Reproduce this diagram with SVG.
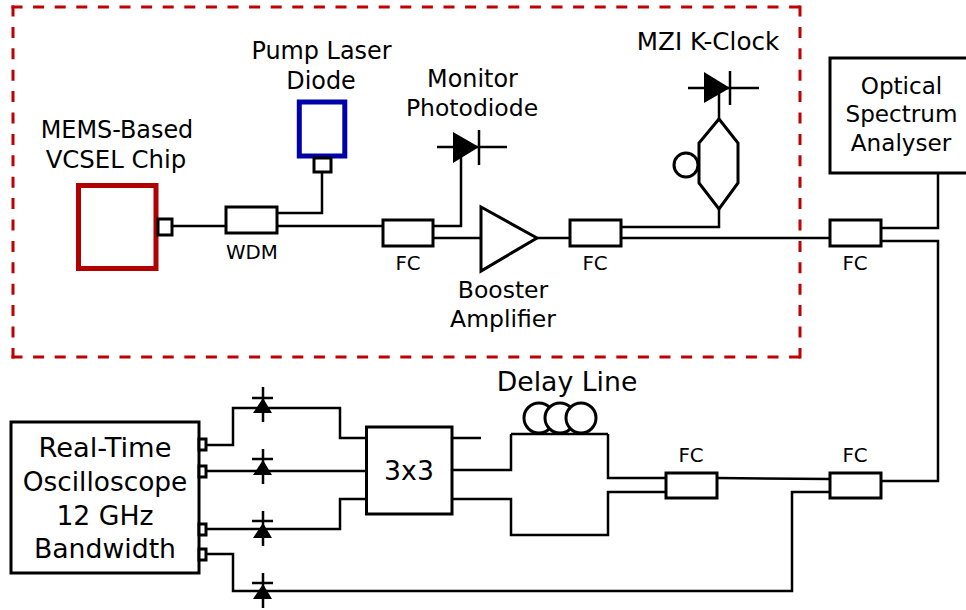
<svg xmlns="http://www.w3.org/2000/svg" width="966" height="610" viewBox="0 0 966 610">
<style>
.b{fill:#fff;stroke:#000;stroke-width:3}
.l{fill:none;stroke:#000;stroke-width:2.5}
.d{fill:#000;stroke:none}
.r{fill:none;stroke:#bf0000;stroke-width:3}
.h{stroke-dasharray:11 10.6}
.v{stroke-dasharray:11 10.4}
text{font-family:"DejaVu Sans",sans-serif;fill:#000;text-anchor:middle}
.t{font-size:23.900px}
.o{font-size:23.100px}
.a{font-size:23.500px}
.s{font-size:19.800px}
.m{font-size:26.700px}
</style>
<rect width="966" height="610" fill="#fff"/>
<g id="boundary"><path class="r h" d="M11.500 7H801.500M11.500 357H801.500"/><path class="r v" d="M13 5.500V358.500M800 5.500V358.500"/></g>
<g id="connectors">
<path class="l" d="M173 226H226M277 226H383M277 213H322V172M433 226H461V147M433 238H481M537 238H570M621 227H719V209M621 238H830M719 119V88M881 228H938V173M881 241H938V481H881"/>
<path class="l" d="M207 445H233V408H340V438H366M207 471H366M207 529H340V499H366M207 554H233V591H792V492H830M452 438H481M452 470H511V434M452 499H511V535H608V492H666M608 434V478H666M511 434H608M717 478L830 479"/>
</g>
<g id="vcsel"><rect x="78.500" y="185.500" width="77.500" height="83" fill="#fff" stroke="#b00000" stroke-width="5"/><rect class="b" x="158" y="219" width="14" height="16"/><text class="t" x="117" y="137.500">MEMS-Based</text><text class="t" x="116" y="167.500" style="font-size:24.400px">VCSEL Chip</text></g>
<g id="pump"><rect x="299.300" y="102" width="45.500" height="54" fill="#fff" stroke="#0000aa" stroke-width="5"/><rect class="b" x="314" y="158" width="17" height="14"/><text class="t" x="321.500" y="58.500">Pump Laser</text><text class="t" x="321" y="88.500">Diode</text></g>
<g id="wdm"><rect class="b" x="226" y="207" width="51" height="26"/><text class="s" x="252" y="259">WDM</text></g>
<g id="fc1"><rect class="b" x="383" y="220" width="50" height="26"/><text class="s" x="408" y="270">FC</text></g>
<g id="monitor"><path class="l" d="M437 147H507M479 130V165"/><path class="d" d="M453 132L479 147L453 163Z"/><text class="t" x="472.500" y="86.500">Monitor</text><text class="a" x="472" y="115.500">Photodiode</text></g>
<g id="booster"><path class="b" d="M481 207V271L537 238Z"/><text class="a" x="503" y="297.500">Booster</text><text class="a" x="503" y="326.500">Amplifier</text></g>
<g id="fc2"><rect class="b" x="570" y="220" width="51" height="26"/><text class="s" x="595" y="270">FC</text></g>
<g id="mzi"><path class="b" d="M719 119L738 143V183L719 209L699 183V143Z"/><circle class="b" cx="686" cy="165" r="12"/><path class="l" d="M688 88H759M730 71V105"/><path class="d" d="M704 72L730 88L704 103Z"/><text class="t" x="708" y="49.500" style="font-size:24.600px">MZI K-Clock</text></g>
<g id="osa"><rect class="b" x="830" y="58" width="140" height="115"/><text class="o" x="901.500" y="93.500">Optical</text><text class="o" x="901.500" y="121.500">Spectrum</text><text class="o" x="901" y="150.500">Analyser</text></g>
<g id="fc3"><rect class="b" x="830" y="220" width="51" height="26"/><text class="s" x="855" y="270">FC</text></g>
<g id="scope"><rect class="b" x="11" y="422" width="188" height="151"/><rect class="b" x="199" y="439" width="7" height="11"/><rect class="b" x="199" y="466" width="7" height="11"/><rect class="b" x="199" y="524" width="7" height="11"/><rect class="b" x="199" y="549" width="7" height="11"/><text class="m" x="105" y="457" style="font-size:27.300px">Real-Time</text><text class="m" x="105" y="491" style="font-size:26.400px">Oscilloscope</text><text class="m" x="105" y="525">12 GHz</text><text class="m" x="105" y="558">Bandwidth</text></g>
<g id="pd1"><path class="l" d="M263 387V422M252 398H273"/><path class="d" d="M263 398L272 413H253Z"/></g>
<g id="pd2"><path class="l" d="M263 449V484M252 459H273"/><path class="d" d="M263 460L272 475H253Z"/></g>
<g id="pd3"><path class="l" d="M263 511V546M252 521H273"/><path class="d" d="M263 523L272 538H253Z"/></g>
<g id="pd4"><path class="l" d="M263 573V608M252 583H273"/><path class="d" d="M263 584L272 599H253Z"/></g>
<g id="coupler"><rect class="b" x="366.500" y="427" width="85.500" height="87"/><text class="m" x="409" y="480">3x3</text></g>
<g id="delay"><circle class="b" cx="539" cy="418" r="15"/><circle class="b" cx="560" cy="418" r="15"/><circle class="b" cx="581" cy="418" r="15"/><text class="m" x="567" y="391">Delay Line</text></g>
<g id="fc4"><rect class="b" x="666" y="473" width="51" height="25"/><text class="s" x="691" y="462">FC</text></g>
<g id="fc5"><rect class="b" x="830" y="473" width="51" height="25"/><text class="s" x="855" y="462">FC</text></g>
</svg>
